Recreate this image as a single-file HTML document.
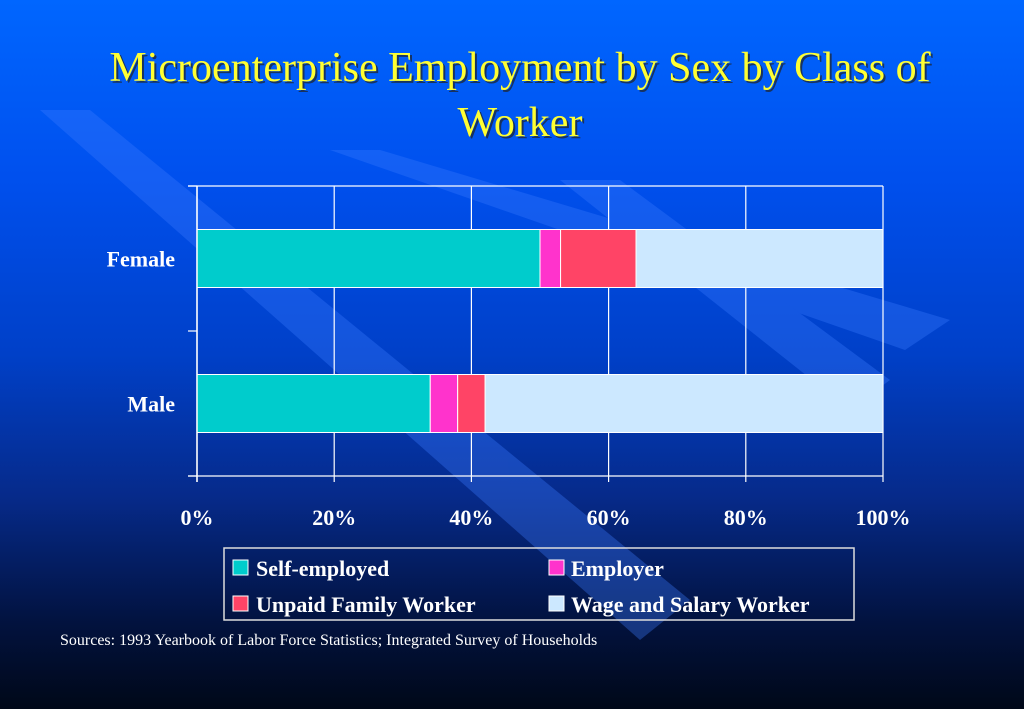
<!DOCTYPE html>
<html><head><meta charset="utf-8"><style>
html,body{margin:0;padding:0;width:1024px;height:709px;overflow:hidden}
body{background:linear-gradient(180deg,#0066ff 0%,#0050ee 25%,#0040c8 50%,#062a8a 70%,#02123e 88%,#000818 100%);font-family:"Liberation Serif",serif;position:relative}
svg{position:absolute;left:0;top:0}
</style></head><body>
<svg width="1024" height="709">
<g fill="#3b7bff" opacity="0.35">
<polygon points="40,110 90,110 690,600 640,640"/>
<polygon points="330,150 380,150 950,320 905,350"/>
<polygon points="560,180 620,180 890,380 850,410"/>
</g>
<g font-family="Liberation Serif, serif" font-size="42" text-anchor="middle">
<text x="522" y="83" fill="#222" opacity="0.7">Microenterprise Employment by Sex by Class of</text>
<text x="520" y="81" fill="#ffff33">Microenterprise Employment by Sex by Class of</text>
<text x="522" y="138" fill="#222" opacity="0.7">Worker</text>
<text x="520" y="136" fill="#ffff33">Worker</text>
</g>
<g id="chart"></g>
<g>
<rect x="224" y="548" width="630" height="72" fill="none" stroke="#ddd" stroke-width="1.5"/>
<g font-family="Liberation Serif, serif" font-size="22" font-weight="bold" fill="#fff">
<g><rect x="233" y="560" width="15" height="15" fill="#00cccc" stroke="#fff"/><text x="256" y="576">Self-employed</text></g>
<g><rect x="549" y="560" width="15" height="15" fill="#ff33cc" stroke="#fff"/><text x="571" y="576">Employer</text></g>
<g><rect x="233" y="596" width="15" height="15" fill="#ff4466" stroke="#fff"/><text x="256" y="612">Unpaid Family Worker</text></g>
<g><rect x="549" y="596" width="15" height="15" fill="#cce8ff" stroke="#fff"/><text x="571" y="612">Wage and Salary Worker</text></g>
</g></g>
<text x="60" y="645" font-family="Liberation Serif, serif" font-size="16" fill="#fff">Sources:  1993 Yearbook of Labor Force Statistics; Integrated Survey of Households</text>
</svg>
<script>
const categories=["Female","Male"];
const seriesNames=["Self-employed","Employer","Unpaid Family Worker","Wage and Salary Worker"];
const selfEmployed=[50,34];
const employer=[3,4];
const unpaid=[11,4];
const wage=[36,58];
const xTicks=[0,20,40,60,80,100];
const xTickLabels=["0%","20%","40%","60%","80%","100%"];
(function(){
const NS="http://www.w3.org/2000/svg";
const g=document.getElementById('chart');
const L=197,R=883,T=186,B=476;
const x=v=>L+(R-L)*v/100;
const bandH=(B-T)/categories.length;
const yc=i=>T+bandH*(i+0.5);
const barH=58;
const colors=["#00cccc","#ff33cc","#ff4466","#cce8ff"];
const series=[selfEmployed,employer,unpaid,wage];
function mk(t,a){const e=document.createElementNS(NS,t);for(const k in a)e.setAttribute(k,a[k]);g.appendChild(e);return e;}
xTicks.forEach((t,i)=>{
 const l=mk('line',{x1:x(t),x2:x(t),y1:T,y2:B+6,stroke:'#fff','stroke-width':1.2});
 
 
 const tx=mk('text',{x:x(t),y:525,'text-anchor':'middle',fill:'#fff','font-size':22,'font-weight':'bold','font-family':'Liberation Serif, serif'});
 tx.textContent=xTickLabels[i];
 
 
});
[T,B].forEach(yy=>{const l=mk('line',{x1:L-9,x2:R,y1:yy,y2:yy,stroke:'#fff','stroke-width':1.2});
 
 });
for(let i=0;i<=categories.length;i++){const yy=T+bandH*i;const l=mk('line',{x1:L-9,x2:L,y1:yy,y2:yy,stroke:'#fff','stroke-width':1.2});
 
 }
categories.forEach((c,i)=>{
 let acc=0;
 series.forEach((s,j)=>{
  const r=mk('rect',{x:x(acc),y:yc(i)-barH/2,width:x(acc+s[i])-x(acc),height:barH,fill:colors[j],stroke:'#fff','stroke-width':1});
  
  
  acc+=s[i];
 });
 const t=mk('text',{x:175,y:yc(i)+8,'text-anchor':'end',fill:'#fff','font-size':22,'font-weight':'bold','font-family':'Liberation Serif, serif'});
 t.textContent=c;
 
 
});
const ax=mk('line',{x1:L,x2:L,y1:T,y2:B+6,stroke:'#fff','stroke-width':1.5});


})();
</script>
</body></html>
